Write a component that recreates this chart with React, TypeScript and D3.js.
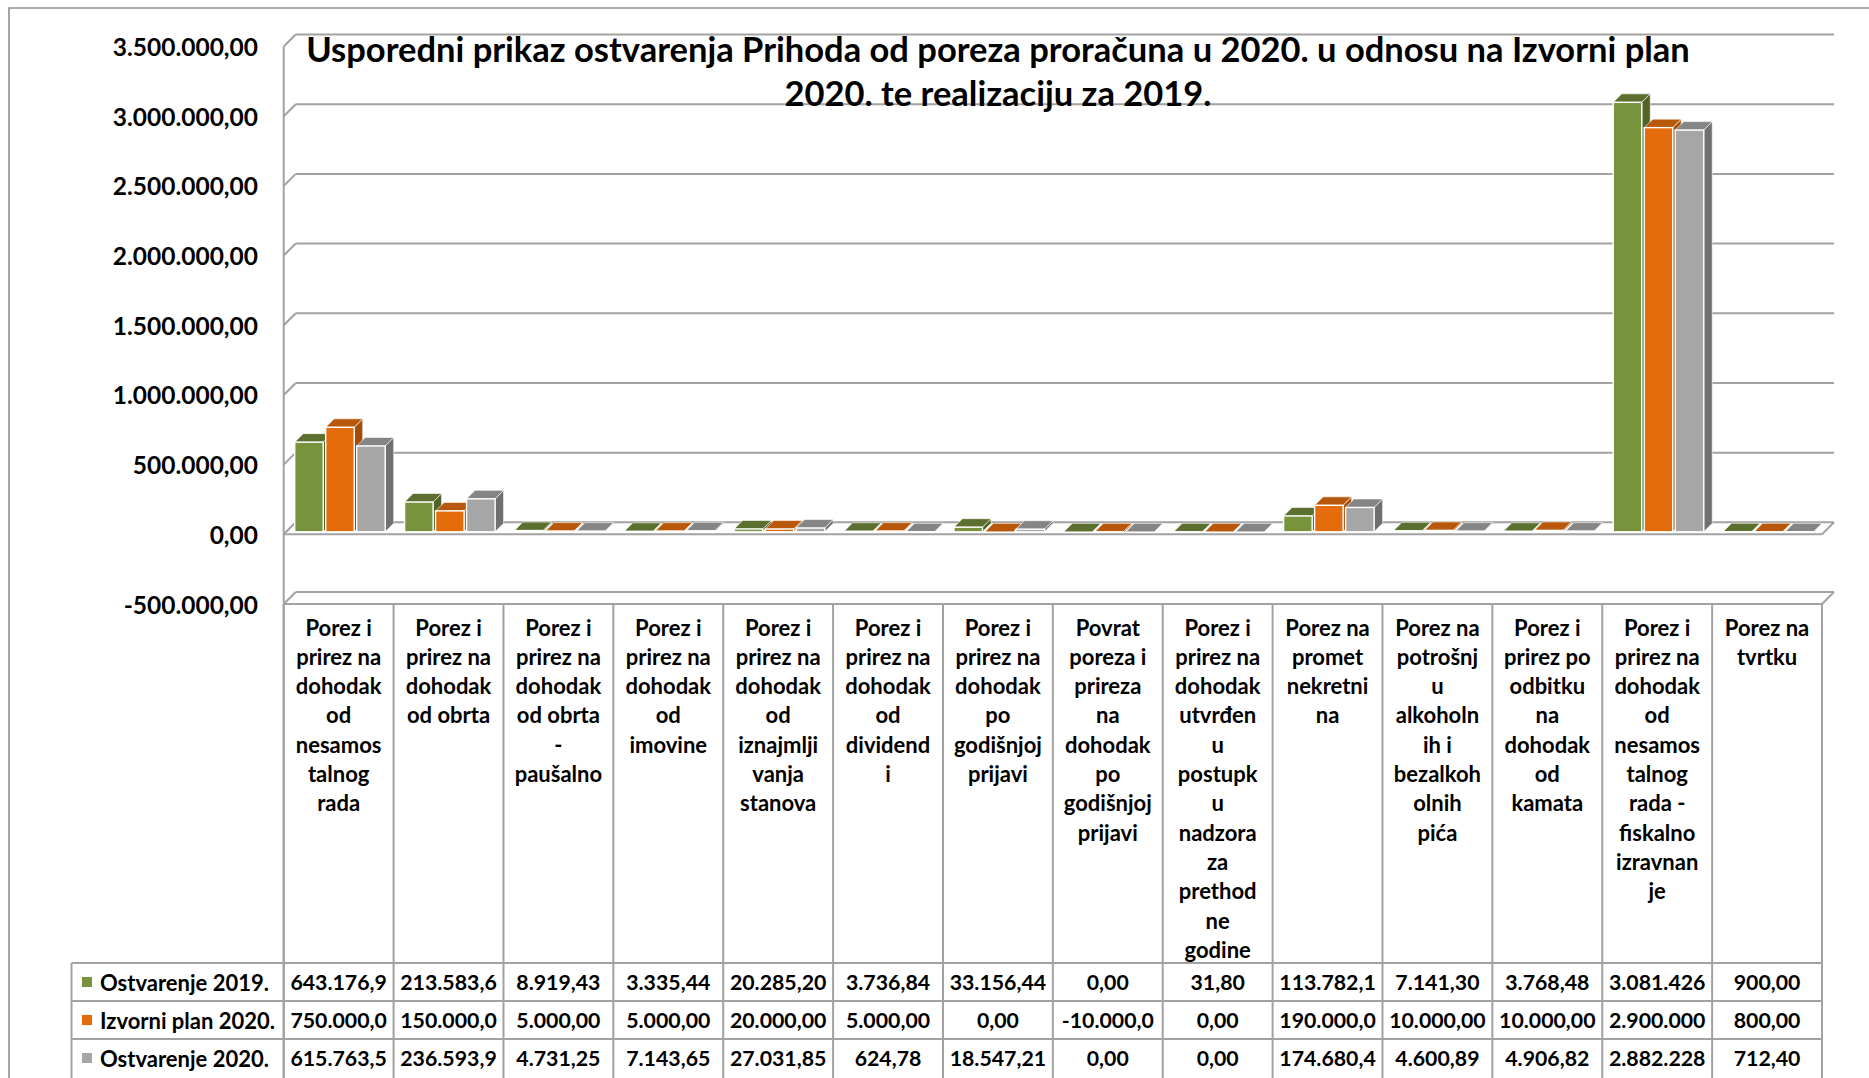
import React from "react";
import * as d3 from "d3";

// ---------------- DATA ----------------
const categoryLines: string[][] = [
  ["Porez i", "prirez na", "dohodak", "od", "nesamos", "talnog", "rada"],
  ["Porez i", "prirez na", "dohodak", "od obrta"],
  ["Porez i", "prirez na", "dohodak", "od obrta", "-", "paušalno"],
  ["Porez i", "prirez na", "dohodak", "od", "imovine"],
  ["Porez i", "prirez na", "dohodak", "od", "iznajmlji", "vanja", "stanova"],
  ["Porez i", "prirez na", "dohodak", "od", "dividend", "i"],
  ["Porez i", "prirez na", "dohodak", "po", "godišnjoj", "prijavi"],
  ["Povrat", "poreza i", "prireza", "na", "dohodak", "po", "godišnjoj", "prijavi"],
  ["Porez i", "prirez na", "dohodak", "utvrđen", "u", "postupk", "u", "nadzora", "za", "prethod", "ne", "godine"],
  ["Porez na", "promet", "nekretni", "na"],
  ["Porez na", "potrošnj", "u", "alkoholn", "ih i", "bezalkoh", "olnih", "pića"],
  ["Porez i", "prirez po", "odbitku", "na", "dohodak", "od", "kamata"],
  ["Porez i", "prirez na", "dohodak", "od", "nesamos", "talnog", "rada -", "fiskalno", "izravnan", "je"],
  ["Porez na", "tvrtku"],
];

const seriesNames = ["Ostvarenje 2019.", "Izvorni plan 2020.", "Ostvarenje 2020."];

const ostvarenje2019 = [
  643176.9, 213583.6, 8919.43, 3335.44, 20285.2, 3736.84, 33156.44, 0, 31.8, 113782.1, 7141.3, 3768.48, 3081426, 900,
];
const izvorniPlan2020 = [
  750000, 150000, 5000, 5000, 20000, 5000, 0, -10000, 0, 190000, 10000, 10000, 2900000, 800,
];
const ostvarenje2020 = [
  615763.5, 236593.9, 4731.25, 7143.65, 27031.85, 624.78, 18547.21, 0, 0, 174680.4, 4600.89, 4906.82, 2882228, 712.4,
];

const yTickValues = [-500000, 0, 500000, 1000000, 1500000, 2000000, 2500000, 3000000, 3500000];

const titleLines = [
  "Usporedni prikaz ostvarenja Prihoda od poreza proračuna u 2020. u odnosu na Izvorni plan",
  "2020. te realizaciju za 2019.",
];

// ---------------- STYLE / LAYOUT ----------------
const W = 1869;
const H = 1078;
const FRONT_LEFT = 283.7;
const FRONT_RIGHT = 1822;
const DEPTH = 12;
const Y_TOP = 46.5;
const Y_BOTTOM = 604;
const BAR_DEPTH = 8.5;
const BAR_INSET = 2.5;
const ROW_TOP = 963;
const ROW_H = 38;
const LEGEND_LEFT = 71.5;
const HEADER_FIRST = 627;
const HEADER_STEP = 29.3;
const FONT = "Lato, 'Open Sans', sans-serif";
const GRID = "#a2a2a2";

const frontColors = ["#77933C", "#E46C0A", "#A6A6A6"];
const topColors = ["#5B702E", "#B9580A", "#858585"];
const sideColors = ["#506428", "#A34D08", "#707070"];

const locale = d3.formatLocale({
  decimal: ",",
  thousands: ".",
  grouping: [3],
  currency: ["", ""],
  minus: "-",
});
const fmt = locale.format(",.2f");

export default function App() {
  const series = [ostvarenje2019, izvorniPlan2020, ostvarenje2020];
  const y = d3.scaleLinear().domain([-500000, 3500000]).range([Y_BOTTOM, Y_TOP]);
  const x = d3
    .scaleBand<number>()
    .domain(categoryLines.map((_, i) => i))
    .range([FRONT_LEFT, FRONT_RIGHT]);
  const x1 = d3
    .scaleBand<number>()
    .domain([0, 1, 2])
    .range([8.5, 99])
    .paddingInner(0.08);
  const bw = x1.bandwidth();
  const y0 = y(0);

  const gridBack = yTickValues.map((v) => {
    const yf = y(v);
    return (
      <g key={"g" + v}>
        <line x1={FRONT_LEFT + DEPTH} x2={FRONT_RIGHT + DEPTH} y1={yf - DEPTH} y2={yf - DEPTH} stroke={GRID} strokeWidth={2} />
        <line x1={FRONT_LEFT} x2={FRONT_LEFT + DEPTH} y1={yf} y2={yf - DEPTH} stroke={GRID} strokeWidth={2} />
      </g>
    );
  });

  const bars: React.ReactNode[] = [];
  categoryLines.forEach((_, i) => {
    series.forEach((vals, s) => {
      const v = vals[i];
      const xf = (x(i) as number) + (x1(s) as number) + BAR_INSET;
      const yb = y0 - BAR_INSET;
      const yv = y(v) - BAR_INSET;
      const yt = Math.min(yb, yv);
      const ybot = Math.max(yb, yv);
      const d = BAR_DEPTH;
      bars.push(
        <g key={`b${i}-${s}`}>
          <polygon
            points={`${xf + bw},${yt} ${xf + bw + d},${yt - d} ${xf + bw + d},${ybot - d} ${xf + bw},${ybot}`}
            fill={sideColors[s]}
            stroke="#ffffff"
            strokeWidth={0.6}
          />
          <polygon
            points={`${xf},${yt} ${xf + bw},${yt} ${xf + bw + d},${yt - d} ${xf + d},${yt - d}`}
            fill={topColors[s]}
            stroke="#ffffff"
            strokeWidth={0.6}
          />
          <rect x={xf} y={yt} width={bw} height={ybot - yt} fill={frontColors[s]} stroke="#ffffff" strokeWidth={1.4} />
        </g>
      );
    });
  });

  const planeLines = (v: number, k: string) => {
    const yf = y(v);
    return (
      <g key={k}>
        <line x1={FRONT_LEFT} x2={FRONT_RIGHT} y1={yf} y2={yf} stroke={GRID} strokeWidth={2} />
        <line x1={FRONT_RIGHT} x2={FRONT_RIGHT + DEPTH} y1={yf} y2={yf - DEPTH} stroke={GRID} strokeWidth={2} />
      </g>
    );
  };

  const colEdges = d3.range(categoryLines.length + 1).map((i) =>
    i < categoryLines.length ? (x(i) as number) : FRONT_RIGHT
  );

  return (
    <svg width={W} height={H} style={{ position: "absolute", left: 0, top: 0, background: "#fff" }} fontFamily={FONT}>
      <rect x={0} y={0} width={W} height={H} fill="#ffffff" />
      {/* outer chart border */}
      <path d={`M9,${H + 5} L9,8 L${W + 5},8`} fill="none" stroke="#8f8f8f" strokeWidth={1.6} />

      {/* back wall gridlines */}
      {gridBack}
      {/* left wall front edge */}
      <line x1={FRONT_LEFT} x2={FRONT_LEFT} y1={y(3500000)} y2={H} stroke={GRID} strokeWidth={2} />

      {/* bars */}
      {bars}

      {/* zero plane and floor front edges */}
      {planeLines(0, "p0")}
      {planeLines(-500000, "pf")}

      {/* y axis labels */}
      {yTickValues.map((v) => (
        <text key={"t" + v} x={258} y={y(v)} textAnchor="end" dominantBaseline="central" fontSize={24.5} fontWeight={700} fill="#000">
          {fmt(v)}
        </text>
      ))}

      {/* title */}
      {titleLines.map((t, k) => (
        <text key={"ti" + k} x={998} y={48 + k * 44} textAnchor="middle" dominantBaseline="central" fontSize={34.5} fontWeight={700} fill="#000">
          {t}
        </text>
      ))}

      {/* table grid */}
      {colEdges.map((cx, i) => (
        <line key={"c" + i} x1={cx} x2={cx} y1={Y_BOTTOM} y2={H} stroke={GRID} strokeWidth={2} />
      ))}
      <line x1={LEGEND_LEFT} x2={LEGEND_LEFT} y1={ROW_TOP} y2={H} stroke={GRID} strokeWidth={2} />
      {[0, 1, 2].map((r) => (
        <line key={"r" + r} x1={LEGEND_LEFT} x2={FRONT_RIGHT} y1={ROW_TOP + r * ROW_H} y2={ROW_TOP + r * ROW_H} stroke={GRID} strokeWidth={2} />
      ))}

      {/* category headers */}
      {categoryLines.map((lines, i) => (
        <text key={"h" + i} textAnchor="middle" fontSize={22} fontWeight={700} fill="#000">
          {lines.map((ln, k) => (
            <tspan key={k} x={(x(i) as number) + x.bandwidth() / 2} y={HEADER_FIRST + k * HEADER_STEP} dominantBaseline="central">
              {ln}
            </tspan>
          ))}
        </text>
      ))}

      {/* legend + values */}
      {series.map((vals, s) => {
        const cy = ROW_TOP + s * ROW_H + ROW_H / 2;
        return (
          <g key={"row" + s}>
            <rect x={82} y={cy - 5} width={10} height={10} fill={frontColors[s]} />
            <text x={100} y={cy} dominantBaseline="central" fontSize={22} fontWeight={700} fill="#000">
              {seriesNames[s]}
            </text>
            {vals.map((v, i) => (
              <text
                key={i}
                x={(x(i) as number) + x.bandwidth() / 2}
                y={cy}
                textAnchor="middle"
                dominantBaseline="central"
                fontSize={21.3}
                fontWeight={700}
                fill="#000"
              >
                {fmt(v).slice(0, 9)}
              </text>
            ))}
          </g>
        );
      })}
    </svg>
  );
}
